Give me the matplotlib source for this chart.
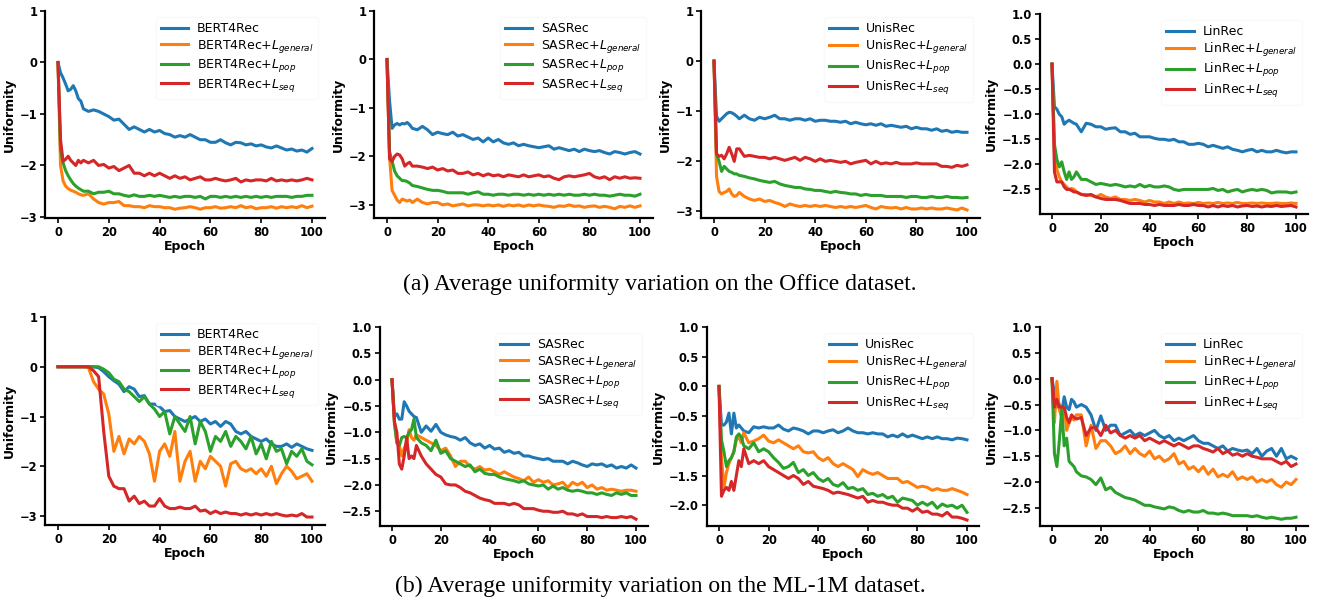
import matplotlib.pyplot as plt

# epochs: every epoch up to 10, then every 2nd epoch
EPOCHS = list(range(0, 11)) + list(range(12, 101, 2))

# ---------------- Office dataset ----------------
office_bert4rec = [0, -0.2, -0.3, -0.42, -0.55, -0.52, -0.45, -0.55, -0.7, -0.75, -0.9,
                   -0.95, -0.92, -0.95, -1.0, -1.05, -1.12, -1.1, -1.2, -1.3,
                   -1.25, -1.3, -1.35, -1.3, -1.35, -1.32, -1.38, -1.4, -1.45,
                   -1.42, -1.45, -1.4, -1.45, -1.5, -1.5, -1.55, -1.55, -1.5,
                   -1.56, -1.6, -1.55, -1.56, -1.6, -1.58, -1.62, -1.6, -1.64,
                   -1.66, -1.62, -1.66, -1.7, -1.68, -1.72, -1.7, -1.74, -1.67]
office_bert4rec_general = [0, -2.0, -2.3, -2.4, -2.45, -2.48, -2.5, -2.52, -2.55, -2.57, -2.58,
                           -2.55, -2.65, -2.72, -2.75, -2.72, -2.72, -2.7, -2.78, -2.78,
                           -2.8, -2.8, -2.82, -2.78, -2.8, -2.8, -2.82, -2.82, -2.85,
                           -2.83, -2.82, -2.8, -2.82, -2.85, -2.82, -2.82, -2.8, -2.83,
                           -2.82, -2.8, -2.82, -2.78, -2.82, -2.8, -2.84, -2.82, -2.82,
                           -2.8, -2.83, -2.8, -2.82, -2.8, -2.82, -2.78, -2.82, -2.79]
office_bert4rec_pop = [0, -1.7, -1.95, -2.1, -2.2, -2.28, -2.35, -2.4, -2.44, -2.47, -2.5,
                       -2.5, -2.55, -2.52, -2.52, -2.5, -2.55, -2.55, -2.58, -2.6,
                       -2.57, -2.6, -2.6, -2.58, -2.6, -2.58, -2.6, -2.62, -2.6,
                       -2.62, -2.6, -2.6, -2.62, -2.6, -2.65, -2.6, -2.6, -2.62,
                       -2.6, -2.62, -2.6, -2.62, -2.6, -2.62, -2.6, -2.62, -2.6,
                       -2.62, -2.6, -2.6, -2.6, -2.62, -2.6, -2.6, -2.58, -2.58]
office_bert4rec_seq = [0, -1.5, -1.92, -1.88, -1.82, -1.9, -1.95, -2.0, -1.9, -1.95, -1.9,
                       -1.95, -1.9, -2.0, -1.98, -2.05, -2.02, -2.1, -2.05, -2.0,
                       -2.15, -2.15, -2.2, -2.15, -2.2, -2.15, -2.2, -2.25, -2.2,
                       -2.25, -2.22, -2.28, -2.25, -2.22, -2.28, -2.28, -2.25, -2.28,
                       -2.3, -2.28, -2.25, -2.32, -2.28, -2.3, -2.28, -2.28, -2.3,
                       -2.25, -2.3, -2.28, -2.3, -2.28, -2.3, -2.28, -2.25, -2.28]

office_sasrec = [0, -0.85, -1.42, -1.35, -1.32, -1.35, -1.32, -1.33, -1.3, -1.35, -1.42,
                 -1.45, -1.38, -1.45, -1.55, -1.5, -1.53, -1.55, -1.5, -1.58,
                 -1.55, -1.6, -1.65, -1.62, -1.7, -1.62, -1.7, -1.65, -1.72,
                 -1.75, -1.72, -1.78, -1.75, -1.78, -1.8, -1.82, -1.8, -1.78,
                 -1.85, -1.82, -1.85, -1.88, -1.85, -1.9, -1.85, -1.88, -1.9,
                 -1.88, -1.92, -1.95, -1.9, -1.92, -1.95, -1.92, -1.9, -1.95]
office_sasrec_general = [0, -2.0, -2.7, -2.8, -2.9, -2.95, -2.88, -2.9, -2.92, -2.9, -2.95,
                         -2.88, -2.95, -2.98, -2.95, -2.95, -3.0, -2.98, -3.02, -3.0,
                         -2.98, -3.02, -3.0, -3.0, -3.02, -3.0, -3.02, -3.0, -3.03,
                         -3.0, -3.02, -3.0, -3.03, -3.0, -3.02, -3.0, -3.02, -3.03,
                         -3.05, -3.02, -3.03, -3.0, -3.03, -3.02, -3.05, -3.03, -3.02,
                         -3.05, -3.03, -3.05, -3.08, -3.03, -3.05, -3.02, -3.05, -3.02]
office_sasrec_pop = [0, -1.9, -2.1, -2.3, -2.4, -2.45, -2.5, -2.5, -2.52, -2.55, -2.6,
                     -2.62, -2.65, -2.68, -2.7, -2.7, -2.72, -2.75, -2.75, -2.75,
                     -2.75, -2.78, -2.75, -2.73, -2.78, -2.78, -2.8, -2.78, -2.78,
                     -2.8, -2.78, -2.78, -2.8, -2.78, -2.8, -2.78, -2.8, -2.78,
                     -2.8, -2.78, -2.8, -2.78, -2.8, -2.8, -2.78, -2.8, -2.78,
                     -2.8, -2.8, -2.82, -2.8, -2.78, -2.8, -2.8, -2.82, -2.78]
office_sasrec_seq = [0, -2.05, -2.1, -2.0, -1.95, -1.97, -2.05, -2.2, -2.15, -2.12, -2.2,
                     -2.2, -2.22, -2.25, -2.22, -2.28, -2.25, -2.3, -2.28, -2.35,
                     -2.35, -2.32, -2.38, -2.35, -2.4, -2.36, -2.4, -2.38, -2.42,
                     -2.38, -2.4, -2.42, -2.38, -2.42, -2.4, -2.38, -2.42, -2.4,
                     -2.45, -2.48, -2.42, -2.4, -2.42, -2.4, -2.38, -2.35, -2.42,
                     -2.45, -2.42, -2.48, -2.42, -2.45, -2.42, -2.45, -2.44, -2.45]

office_unisrec = [0, -1.1, -1.2, -1.15, -1.1, -1.05, -1.02, -1.03, -1.06, -1.1, -1.15,
                  -1.08, -1.15, -1.18, -1.12, -1.15, -1.12, -1.08, -1.15, -1.15,
                  -1.18, -1.15, -1.15, -1.18, -1.15, -1.2, -1.18, -1.18, -1.2,
                  -1.2, -1.22, -1.2, -1.25, -1.22, -1.25, -1.27, -1.25, -1.28,
                  -1.25, -1.3, -1.28, -1.3, -1.32, -1.3, -1.35, -1.32, -1.35,
                  -1.35, -1.38, -1.35, -1.4, -1.38, -1.42, -1.4, -1.42, -1.42]
office_unisrec_general = [0, -2.3, -2.6, -2.65, -2.62, -2.6, -2.55, -2.65, -2.7, -2.68, -2.62,
                          -2.7, -2.75, -2.78, -2.75, -2.8, -2.78, -2.82, -2.85, -2.9,
                          -2.85, -2.88, -2.9, -2.88, -2.9, -2.88, -2.9, -2.88, -2.9,
                          -2.92, -2.9, -2.92, -2.9, -2.92, -2.9, -2.88, -2.92, -2.95,
                          -2.9, -2.92, -2.93, -2.92, -2.95, -2.92, -2.95, -2.95, -2.93,
                          -2.95, -2.93, -2.95, -2.95, -2.93, -2.95, -2.97, -2.93, -2.97]
office_unisrec_pop = [0, -1.85, -2.0, -2.2, -2.1, -2.15, -2.2, -2.22, -2.25, -2.25, -2.28,
                      -2.3, -2.33, -2.35, -2.38, -2.4, -2.42, -2.4, -2.45, -2.48,
                      -2.5, -2.52, -2.52, -2.55, -2.56, -2.58, -2.58, -2.6, -2.62,
                      -2.6, -2.62, -2.63, -2.65, -2.65, -2.68, -2.66, -2.68, -2.68,
                      -2.68, -2.7, -2.7, -2.7, -2.7, -2.72, -2.7, -2.7, -2.72,
                      -2.72, -2.7, -2.72, -2.72, -2.7, -2.72, -2.72, -2.73, -2.72]
office_unisrec_seq = [0, -1.85, -1.9, -1.88, -1.95, -1.85, -1.72, -1.85, -2.0, -1.75, -1.75,
                      -1.9, -1.88, -1.9, -1.92, -1.92, -1.95, -1.92, -1.95, -1.98,
                      -1.95, -1.92, -1.98, -1.92, -1.95, -2.0, -1.95, -2.0, -1.98,
                      -2.0, -2.02, -2.0, -2.05, -2.02, -2.0, -1.98, -2.05, -2.0,
                      -2.05, -2.03, -2.05, -2.02, -2.05, -2.05, -2.05, -2.03, -2.05,
                      -2.05, -2.05, -2.05, -2.1, -2.1, -2.12, -2.08, -2.1, -2.07]

office_linrec = [0, -0.85, -0.9, -1.0, -1.05, -1.2, -1.15, -1.12, -1.15, -1.18, -1.2,
                 -1.35, -1.18, -1.2, -1.25, -1.25, -1.3, -1.28, -1.27, -1.35,
                 -1.35, -1.4, -1.38, -1.45, -1.45, -1.45, -1.48, -1.5, -1.5,
                 -1.52, -1.5, -1.55, -1.55, -1.6, -1.6, -1.58, -1.6, -1.65,
                 -1.62, -1.65, -1.68, -1.65, -1.7, -1.72, -1.75, -1.72, -1.7,
                 -1.75, -1.72, -1.75, -1.75, -1.72, -1.75, -1.77, -1.75, -1.75]
office_linrec_general = [0, -1.7, -2.1, -2.25, -2.35, -2.4, -2.45, -2.5, -2.48, -2.5, -2.55,
                         -2.6, -2.6, -2.62, -2.65, -2.6, -2.65, -2.68, -2.65, -2.7,
                         -2.7, -2.72, -2.7, -2.72, -2.75, -2.72, -2.75, -2.75, -2.78,
                         -2.75, -2.78, -2.75, -2.78, -2.77, -2.78, -2.76, -2.78, -2.77,
                         -2.78, -2.76, -2.78, -2.77, -2.78, -2.76, -2.78, -2.78, -2.77,
                         -2.78, -2.77, -2.78, -2.78, -2.77, -2.78, -2.78, -2.77, -2.78]
office_linrec_pop = [0, -1.6, -1.9, -2.05, -1.95, -2.15, -2.3, -2.15, -2.3, -2.25, -2.15,
                     -2.3, -2.3, -2.35, -2.4, -2.38, -2.4, -2.42, -2.4, -2.42,
                     -2.45, -2.43, -2.45, -2.4, -2.45, -2.42, -2.45, -2.45, -2.43,
                     -2.45, -2.5, -2.52, -2.5, -2.5, -2.5, -2.5, -2.5, -2.5,
                     -2.48, -2.52, -2.5, -2.55, -2.52, -2.5, -2.55, -2.52, -2.5,
                     -2.52, -2.5, -2.52, -2.57, -2.55, -2.55, -2.55, -2.57, -2.55]
office_linrec_seq = [0, -2.15, -2.35, -2.35, -2.35, -2.45, -2.5, -2.5, -2.52, -2.55, -2.55,
                     -2.6, -2.62, -2.6, -2.65, -2.68, -2.7, -2.7, -2.7, -2.72,
                     -2.75, -2.78, -2.78, -2.78, -2.8, -2.8, -2.82, -2.8, -2.82,
                     -2.82, -2.82, -2.8, -2.82, -2.82, -2.8, -2.82, -2.82, -2.85,
                     -2.82, -2.85, -2.82, -2.84, -2.82, -2.85, -2.83, -2.82, -2.84,
                     -2.83, -2.85, -2.83, -2.84, -2.82, -2.84, -2.83, -2.82, -2.85]

# ---------------- ML-1M dataset ----------------
ml1m_bert4rec = [0, 0, 0, 0, 0, 0, 0, 0, 0, 0, 0,
                 0, 0, -0.02, -0.1, -0.2, -0.28, -0.35, -0.5, -0.4,
                 -0.45, -0.6, -0.58, -0.75, -0.75, -0.8, -0.9, -0.88, -1.0,
                 -1.05, -1.1, -1.05, -1.0, -1.1, -1.05, -1.15, -1.1, -1.2,
                 -1.1, -1.15, -1.3, -1.35, -1.3, -1.4, -1.45, -1.5, -1.45,
                 -1.55, -1.6, -1.6, -1.55, -1.62, -1.55, -1.6, -1.65, -1.68]
ml1m_bert4rec_general = [0, 0, 0, 0, 0, 0, 0, 0, 0, 0, 0,
                         -0.02, -0.3, -0.45, -0.55, -0.95, -1.7, -1.4, -1.75, -1.45,
                         -1.55, -1.4, -1.5, -1.75, -2.3, -1.7, -1.55, -1.8, -1.3,
                         -2.3, -1.9, -1.7, -2.3, -1.9, -2.05, -1.8, -1.9, -2.0,
                         -2.4, -1.95, -1.9, -2.05, -2.1, -2.05, -2.15, -2.05, -2.2,
                         -2.0, -2.35, -2.15, -2.0, -2.1, -2.25, -2.2, -2.15, -2.3]
ml1m_bert4rec_pop = [0, 0, 0, 0, 0, 0, 0, 0, 0, 0, 0,
                     0, 0, 0, -0.05, -0.12, -0.25, -0.3, -0.45, -0.5,
                     -0.6, -0.7, -0.6, -0.75, -0.85, -1.0, -0.9, -1.35, -1.0,
                     -1.15, -1.3, -1.0, -1.55, -1.1, -1.3, -1.7, -1.4, -1.5,
                     -1.3, -1.6, -1.4, -1.5, -1.65, -1.4, -1.75, -1.55, -1.85,
                     -1.5, -1.7, -1.65, -1.95, -1.7, -1.8, -1.65, -1.9, -1.97]
ml1m_bert4rec_seq = [0, 0, 0, 0, 0, 0, 0, 0, 0, 0, 0,
                     0, -0.08, -0.2, -1.3, -2.2, -2.4, -2.45, -2.45, -2.7,
                     -2.6, -2.75, -2.7, -2.8, -2.8, -2.65, -2.8, -2.85, -2.85,
                     -2.82, -2.85, -2.85, -2.8, -2.9, -2.88, -2.95, -2.9, -2.95,
                     -2.92, -2.95, -2.95, -2.98, -2.95, -2.98, -2.95, -2.98, -2.95,
                     -2.98, -2.95, -2.98, -3.0, -2.98, -3.0, -2.95, -3.02, -3.02]

ml1m_sasrec = [0, -0.7, -0.65, -0.75, -0.75, -0.42, -0.5, -0.6, -0.65, -0.7, -0.72,
               -1.0, -0.88, -0.98, -0.85, -1.0, -1.05, -1.08, -1.1, -1.15,
               -1.1, -1.2, -1.25, -1.22, -1.3, -1.25, -1.32, -1.3, -1.38,
               -1.35, -1.4, -1.38, -1.45, -1.45, -1.48, -1.5, -1.52, -1.5,
               -1.55, -1.55, -1.55, -1.6, -1.55, -1.58, -1.62, -1.65, -1.6,
               -1.62, -1.6, -1.65, -1.62, -1.68, -1.65, -1.68, -1.62, -1.68]
ml1m_sasrec_general = [0, -0.85, -1.2, -1.25, -1.45, -1.3, -1.2, -0.95, -1.1, -1.15, -1.05,
                       -1.1, -1.15, -1.2, -1.25, -1.35, -1.3, -1.45, -1.65, -1.55,
                       -1.55, -1.65, -1.7, -1.65, -1.72, -1.7, -1.75, -1.8, -1.75,
                       -1.8, -1.85, -1.88, -1.92, -1.85, -1.95, -1.9, -1.95, -1.92,
                       -2.0, -1.98, -1.95, -2.05, -1.95, -2.0, -1.95, -2.05, -2.0,
                       -2.08, -2.05, -2.1, -2.08, -2.1, -2.12, -2.1, -2.1, -2.12]
ml1m_sasrec_pop = [0, -0.8, -1.2, -1.25, -1.1, -1.08, -1.1, -1.0, -0.95, -0.75, -1.1,
                   -1.2, -1.25, -1.35, -1.15, -1.4, -1.35, -1.5, -1.55, -1.6,
                   -1.65, -1.62, -1.75, -1.7, -1.78, -1.8, -1.8, -1.85, -1.88,
                   -1.9, -1.92, -1.95, -1.92, -1.98, -2.0, -2.02, -2.0, -2.08,
                   -2.02, -2.08, -2.05, -2.1, -2.12, -2.1, -2.12, -2.15, -2.15,
                   -2.18, -2.15, -2.18, -2.2, -2.15, -2.18, -2.15, -2.2, -2.2]
ml1m_sasrec_seq = [0, -0.8, -1.0, -1.6, -1.7, -1.45, -1.1, -1.5, -1.45, -1.5, -1.25,
                   -1.45, -1.6, -1.7, -1.8, -1.85, -1.98, -2.0, -2.0, -2.05,
                   -2.12, -2.15, -2.2, -2.25, -2.28, -2.3, -2.35, -2.35, -2.35,
                   -2.38, -2.35, -2.38, -2.45, -2.45, -2.45, -2.48, -2.5, -2.5,
                   -2.52, -2.52, -2.5, -2.55, -2.55, -2.58, -2.55, -2.6, -2.6,
                   -2.6, -2.62, -2.6, -2.62, -2.62, -2.6, -2.62, -2.6, -2.65]

ml1m_unisrec = [0, -0.65, -0.65, -0.6, -0.45, -0.8, -0.45, -0.7, -0.65, -0.7, -0.75,
                -0.78, -0.68, -0.7, -0.68, -0.7, -0.7, -0.65, -0.72, -0.75,
                -0.7, -0.72, -0.75, -0.8, -0.75, -0.75, -0.78, -0.75, -0.73,
                -0.78, -0.75, -0.7, -0.75, -0.78, -0.78, -0.8, -0.78, -0.8,
                -0.8, -0.85, -0.82, -0.85, -0.8, -0.85, -0.82, -0.85, -0.88,
                -0.85, -0.88, -0.85, -0.88, -0.88, -0.9, -0.87, -0.88, -0.9]
ml1m_unisrec_general = [0, -1.2, -1.7, -1.45, -1.3, -1.2, -1.1, -0.9, -0.85, -0.95, -0.78,
                        -0.95, -0.92, -0.88, -0.82, -0.92, -0.95, -0.9, -0.95, -1.0,
                        -1.05, -1.0, -1.1, -1.12, -1.1, -1.2, -1.25, -1.2, -1.3,
                        -1.35, -1.3, -1.35, -1.4, -1.52, -1.4, -1.45, -1.48, -1.45,
                        -1.5, -1.55, -1.55, -1.55, -1.62, -1.6, -1.65, -1.7, -1.68,
                        -1.7, -1.75, -1.72, -1.75, -1.75, -1.72, -1.75, -1.78, -1.82]
ml1m_unisrec_pop = [0, -0.9, -1.1, -1.35, -1.25, -1.2, -1.1, -0.85, -0.8, -0.85, -1.0,
                    -1.05, -0.95, -1.1, -1.05, -1.1, -1.2, -1.28, -1.38, -1.35,
                    -1.28, -1.45, -1.4, -1.5, -1.45, -1.55, -1.6, -1.55, -1.65,
                    -1.68, -1.62, -1.72, -1.7, -1.75, -1.72, -1.82, -1.8, -1.85,
                    -1.82, -1.88, -1.85, -1.95, -1.88, -1.9, -1.92, -2.0, -1.95,
                    -2.0, -1.95, -2.05, -1.98, -2.02, -2.0, -2.05, -2.0, -2.12]
ml1m_unisrec_seq = [0, -1.85, -1.75, -1.7, -1.75, -1.6, -1.75, -1.5, -1.25, -1.35, -1.05,
                    -1.3, -1.25, -1.3, -1.25, -1.35, -1.4, -1.45, -1.5, -1.55,
                    -1.5, -1.55, -1.65, -1.6, -1.68, -1.7, -1.72, -1.75, -1.8,
                    -1.78, -1.8, -1.82, -1.85, -1.88, -1.85, -1.95, -1.92, -1.95,
                    -1.95, -1.98, -2.0, -2.0, -2.05, -2.05, -2.1, -2.05, -2.12,
                    -2.1, -2.15, -2.15, -2.18, -2.12, -2.2, -2.2, -2.22, -2.25]

ml1m_linrec = [0, -0.3, -0.55, -0.5, -0.65, -0.35, -0.55, -0.6, -0.4, -0.45, -0.55,
               -0.5, -0.55, -0.7, -1.0, -0.72, -1.0, -0.9, -0.9, -1.1,
               -1.05, -1.0, -1.1, -1.05, -1.1, -1.05, -1.0, -1.1, -1.15,
               -1.1, -1.2, -1.15, -1.2, -1.15, -1.1, -1.2, -1.25, -1.25,
               -1.3, -1.35, -1.3, -1.4, -1.35, -1.38, -1.4, -1.38, -1.45,
               -1.35, -1.5, -1.4, -1.35, -1.5, -1.35, -1.55, -1.5, -1.55]
ml1m_linrec_general = [0, -0.85, -0.05, -0.6, -0.75, -0.55, -1.0, -0.85, -0.75, -0.8, -0.7,
                       -0.7, -1.3, -0.9, -1.35, -1.2, -1.2, -1.3, -1.45, -1.4,
                       -1.3, -1.45, -1.35, -1.45, -1.5, -1.4, -1.55, -1.5, -1.6,
                       -1.55, -1.45, -1.65, -1.6, -1.75, -1.7, -1.8, -1.7, -1.85,
                       -1.75, -1.9, -1.85, -1.9, -1.8, -1.95, -1.9, -1.95, -1.9,
                       -2.0, -1.95, -2.0, -1.95, -2.05, -2.1, -2.0, -2.05, -1.95]
ml1m_linrec_pop = [0, -1.45, -1.7, -1.2, -0.6, -1.3, -1.15, -1.6, -1.65, -1.7, -1.8,
                   -1.88, -1.9, -1.95, -2.05, -1.92, -2.15, -2.1, -2.2, -2.25,
                   -2.3, -2.32, -2.35, -2.4, -2.45, -2.45, -2.48, -2.5, -2.52,
                   -2.48, -2.5, -2.55, -2.58, -2.55, -2.58, -2.58, -2.55, -2.6,
                   -2.6, -2.62, -2.6, -2.62, -2.65, -2.65, -2.65, -2.65, -2.67,
                   -2.65, -2.68, -2.7, -2.68, -2.7, -2.72, -2.7, -2.7, -2.68]
ml1m_linrec_seq = [0, -0.55, -0.4, -0.55, -0.55, -0.55, -0.75, -0.85, -0.7, -0.75, -0.78,
                   -0.75, -1.1, -0.95, -0.95, -1.1, -0.9, -1.05, -1.0, -1.1,
                   -1.15, -1.1, -1.15, -1.1, -1.2, -1.15, -1.2, -1.25, -1.2,
                   -1.25, -1.3, -1.25, -1.3, -1.35, -1.3, -1.3, -1.35, -1.38,
                   -1.42, -1.35, -1.45, -1.4, -1.48, -1.45, -1.5, -1.45, -1.5,
                   -1.52, -1.55, -1.55, -1.55, -1.6, -1.65, -1.6, -1.7, -1.65]

MODELS = ['BERT4Rec', 'SASRec', 'UnisRec', 'LinRec']
SUFFIXES = ['', r'+$L_{general}$', r'+$L_{pop}$', r'+$L_{seq}$']
COLORS = ['#1f77b4', '#ff7f0e', '#2ca02c', '#d62728']

office = [
    [office_bert4rec, office_bert4rec_general, office_bert4rec_pop, office_bert4rec_seq],
    [office_sasrec, office_sasrec_general, office_sasrec_pop, office_sasrec_seq],
    [office_unisrec, office_unisrec_general, office_unisrec_pop, office_unisrec_seq],
    [office_linrec, office_linrec_general, office_linrec_pop, office_linrec_seq],
]
ml1m = [
    [ml1m_bert4rec, ml1m_bert4rec_general, ml1m_bert4rec_pop, ml1m_bert4rec_seq],
    [ml1m_sasrec, ml1m_sasrec_general, ml1m_sasrec_pop, ml1m_sasrec_seq],
    [ml1m_unisrec, ml1m_unisrec_general, ml1m_unisrec_pop, ml1m_unisrec_seq],
    [ml1m_linrec, ml1m_linrec_general, ml1m_linrec_pop, ml1m_linrec_seq],
]

W, H = 1328, 600
# pixel layout: x of epoch 0, x of epoch 100, top (y=1), bottom spine, ylim bottom
top_layout = [(58, 312, 11, 218, -3.02), (387, 640, 11, 218, -3.27),
              (714, 967, 11, 218, -3.13), (1052, 1296, 14, 214, -2.99)]
bot_layout = [(58, 312, 317, 525, -3.18), (392, 636, 327, 526, -2.78),
              (719, 967, 327, 526, -2.35), (1052, 1296, 327, 526, -2.85)]
top_ticks = [[-3, -2, -1, 0, 1]] * 3 + [[-2.5, -2.0, -1.5, -1.0, -0.5, 0.0, 0.5, 1.0]]
bot_ticks = [[-3, -2, -1, 0, 1],
             [-2.5, -2.0, -1.5, -1.0, -0.5, 0.0, 0.5, 1.0],
             [-2.0, -1.5, -1.0, -0.5, 0.0, 0.5, 1.0],
             [-2.5, -2.0, -1.5, -1.0, -0.5, 0.0, 0.5, 1.0]]

fig = plt.figure(figsize=(W / 100, H / 100), dpi=100)


def draw_panel(layout, yticks, model, series):
    x0, x100, ytop, ybot, ylow = layout
    span = x100 - x0
    left = x0 - 0.05 * span
    ax = fig.add_axes([left / W, 1 - ybot / H, 1.1 * span / W, (ybot - ytop) / H])
    for vals, suffix, color in zip(series, SUFFIXES, COLORS):
        assert len(vals) == len(EPOCHS), model + suffix
        ax.plot(EPOCHS, vals, color=color, lw=2.2, label=model + suffix)
    ax.set_xlim(-5, 105)
    ax.set_ylim(ylow, 1)
    ax.set_xticks([0, 20, 40, 60, 80, 100])
    ax.set_yticks(yticks)
    for sp in ['top', 'right']:
        ax.spines[sp].set_visible(False)
    for sp in ['left', 'bottom']:
        ax.spines[sp].set_linewidth(1.6)
    ax.tick_params(labelsize=8.3, width=1.2, length=3.5, pad=2)
    for lab in ax.get_xticklabels() + ax.get_yticklabels():
        lab.set_fontweight('bold')
    ax.set_xlabel('Epoch', fontsize=9, fontweight='bold', labelpad=1)
    ax.set_ylabel('Uniformity', fontsize=9, fontweight='bold', labelpad=3)
    leg = ax.legend(loc='upper right', fontsize=9, handlelength=2.2, handletextpad=0.7,
                    framealpha=0.85, labelspacing=0.2)
    leg.get_frame().set_edgecolor('#f8f8f8')
    return ax


for i in range(4):
    draw_panel(top_layout[i], top_ticks[i], MODELS[i], office[i])
    draw_panel(bot_layout[i], bot_ticks[i], MODELS[i], ml1m[i])

fig.text(0.497, 1 - 284 / H, '(a) Average uniformity variation on the Office dataset.',
         ha='center', va='center', fontsize=17, family='Liberation Serif')
fig.text(0.497, 1 - 586 / H, '(b) Average uniformity variation on the ML-1M dataset.',
         ha='center', va='center', fontsize=17, family='Liberation Serif')

fig.savefig('out.png', dpi=100)
